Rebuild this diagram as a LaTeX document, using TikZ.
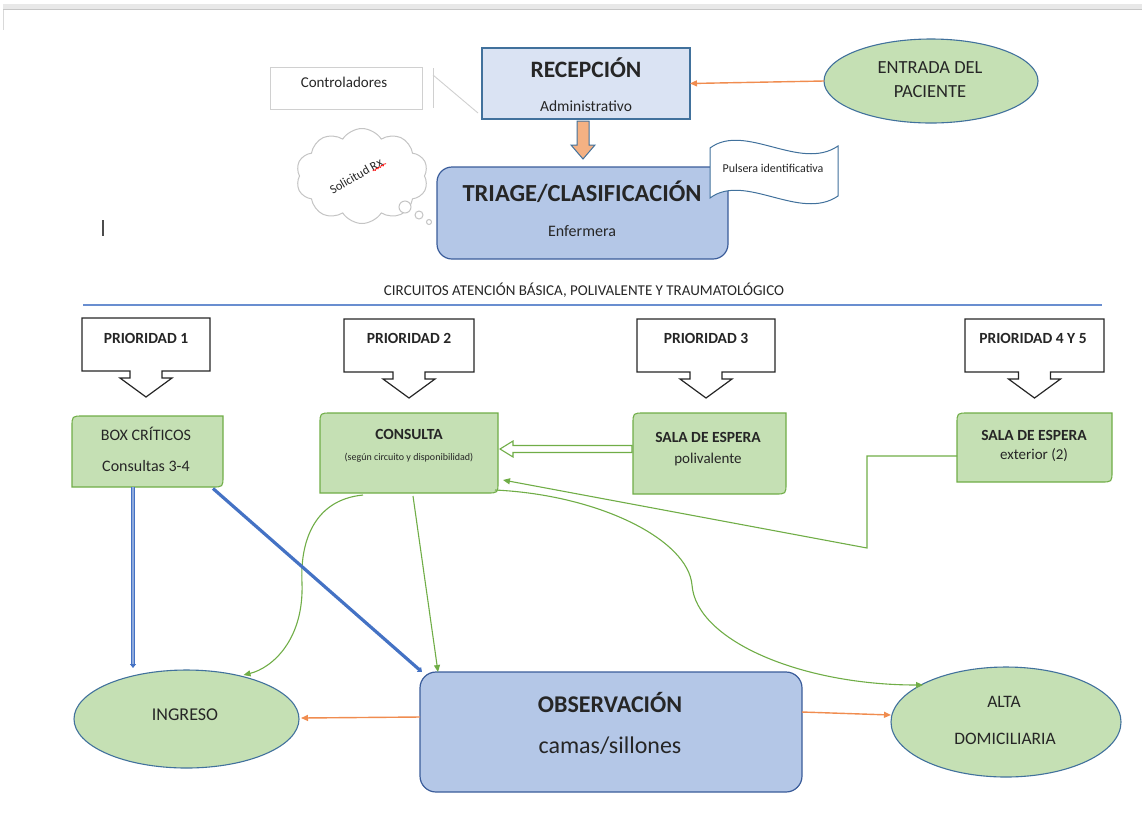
\documentclass[tikz,border=0pt]{standalone}
\usepackage{fontspec}
\setmainfont{Carlito}
\usetikzlibrary{shapes.geometric,shapes.symbols,arrows.meta,calc,decorations.pathmorphing}
\definecolor{recfill}{HTML}{DAE3F3}
\definecolor{bluefill}{HTML}{B4C7E7}
\definecolor{blueedge}{HTML}{41719C}
\definecolor{darkedge}{HTML}{3A5C9A}
\definecolor{greenfill}{HTML}{C5E0B4}
\definecolor{greenedge}{HTML}{70AD47}
\definecolor{orangeline}{HTML}{F08C4F}
\definecolor{orangefill}{HTML}{F4B183}
\definecolor{blueline}{HTML}{4472C4}
\definecolor{bluelight}{HTML}{8FAADC}
\definecolor{txt}{HTML}{262626}
\definecolor{ltgray}{HTML}{D0D0D0}
\definecolor{cloudgray}{HTML}{C4C4C4}
\pgfdeclarelayer{background}
\pgfsetlayers{background,main}
\newcommand\gboxshape[1]{%
  \path[gshape] (#1.south west) -- ([yshift=-11pt]#1.north west)
    .. controls (#1.north west) .. ([xshift=11pt]#1.north west)
    -- (#1.north east) -- ([yshift=11pt]#1.south east)
    .. controls (#1.south east) .. ([xshift=-11pt]#1.south east) -- cycle;}
\newcommand\prioshape[1]{%
  \path[prioshapestyle] (#1.north west) -- (#1.north east) -- (#1.south east)
    -- ($(#1.south)+(16,0)$) -- ($(#1.south)+(16,7)$) -- ($(#1.south)+(26,7)$)
    -- ($(#1.south)+(0,26)$) -- ($(#1.south)+(-26,7)$) -- ($(#1.south)+(-16,7)$)
    -- ($(#1.south)+(-16,0)$) -- (#1.south west) -- cycle;}
\begin{document}
\begin{tikzpicture}[x=1pt,y=-1pt,
  every node/.style={text=txt, inner sep=0pt, outer sep=0pt},
  recbox/.style={draw=blueedge, fill=recfill, line width=1.1pt},
  bluebox/.style={draw=darkedge, fill=bluefill, line width=1.2pt, rounded corners=15pt},
  ell/.style={ellipse, draw=blueedge, fill=greenfill, line width=1.1pt},
  gshape/.style={draw=greenedge, fill=greenfill, line width=1.1pt},
  prioshapestyle/.style={draw=black!85, fill=white, line width=1.2pt},
  invis/.style={draw=none},
  glink/.style={draw=greenedge, line width=1.1pt, -{Triangle[length=7pt,width=6pt]}},
  olink/.style={draw=orangeline, line width=1.4pt, -{Triangle[length=7pt,width=6pt]}},
  blink/.style={draw=blueline, line width=3.2pt, -{Triangle[length=4pt,width=6pt]}},
  dlink/.style={draw=blueline, double=bluelight, double distance=1.1pt, line width=1.1pt, -{Triangle[length=4pt,width=6pt]}},
  t/.style={anchor=base},
]
\useasboundingbox (0,0) rectangle (1142,823);
% page edge
\fill[gray!18] (3,4) rectangle (1142,9);
\draw[gray!45, line width=0.8pt] (3,9.5) -- (1142,9.5);
\draw[gray!30, line width=0.8pt] (3,9.5) -- (3,30);
% text cursor
\draw[black!70, line width=1.2pt] (103,220) -- (103,236);

% ---------- top part ----------
\node[draw=ltgray, line width=0.9pt, minimum width=152pt, minimum height=42pt] (ctl) at (346,88) {};
\draw[ltgray, line width=0.9pt] (433,68) -- (433,108);
\draw[ltgray, line width=0.9pt] (433,75) -- ($(ctl.east)+(56,25)$);

\node[recbox, minimum width=208pt, minimum height=71pt] (rec) at (586,83.5) {};
\node[ell, minimum width=214pt, minimum height=84pt] (ent) at (931,81) {};
\node[bluebox, minimum width=291pt, minimum height=92pt] (tri) at (582.5,213) {};

% cloud
\node[cloud, cloud puffs=10, cloud puff arc=115, aspect=1.35, draw=cloudgray, fill=white, line width=1pt,
      minimum width=132pt, minimum height=95pt] (cld) at (362,176) {};
\draw[cloudgray, fill=white, line width=1pt] (405,207) circle (6pt);
\draw[cloudgray, fill=white, line width=1pt] (419,215) circle (4pt);
\draw[cloudgray, fill=white, line width=1pt] (429,222) circle (2.5pt);

% block arrow
\coordinate (ba) at ($(tri.north)+(0.5,-8)$);
\path[draw=blueedge, fill=orangefill, line width=1pt]
  ($(ba)+(-6,-38)$) -- ($(ba)+(6,-38)$) -- ($(ba)+(6,-14)$) -- ($(ba)+(12,-14)$)
  -- (ba) -- ($(ba)+(-12,-14)$) -- ($(ba)+(-6,-14)$) -- cycle;

% pulsera flag
\path[draw=blueedge, fill=white, line width=1pt]
  (710,148) .. controls (745,122) and (800,172) .. (838,146)
  -- (838,196) .. controls (800,222) and (745,172) .. (710,198) -- cycle;

\draw[olink] (ent.west) -- (rec.east);

% texts top
\node[t, font=\fontsize{15}{17}\selectfont] (ctlt) at (344,87) {Controladores};
\node[t, font=\fontsize{23.5}{25}\selectfont\bfseries] (rect1) at (586,77.5) {RECEPCIÓN};
\node[t, font=\fontsize{15.5}{18}\selectfont] (rect2) at (586,111) {Administrativo};
\node[t, font=\fontsize{18.5}{20}\selectfont] (entt1) at (930,73) {ENTRADA DEL};
\node[t, font=\fontsize{18.5}{20}\selectfont] (entt2) at (930,97) {PACIENTE};
\node[t, font=\fontsize{24.5}{26}\selectfont\bfseries] (trit1) at (582,201.5) {TRIAGE/CLASIFICACIÓN};
\node[t, font=\fontsize{16}{18}\selectfont] (trit2) at (582,236) {Enfermera};
\node[t, font=\fontsize{12}{14}\selectfont] (pul) at (773,172) {Pulsera identificativa};
\node[rotate=30, font=\fontsize{12.5}{14}\selectfont] (sol) at (356,176) {Solicitud Rx};
\draw[red, line width=0.7pt, decorate, decoration={snake, amplitude=0.7pt, segment length=3pt}]
  (373,171) -- (386,163.5);

% ---------- circuits header ----------
\node[t, font=\fontsize{15}{17}\selectfont] (circ) at (584,295) {CIRCUITOS ATENCIÓN BÁSICA, POLIVALENTE Y TRAUMATOLÓGICO};
\draw[blueline!80, line width=1.3pt] (83,305) -- (1102,305);

% priority callouts
\node[invis, minimum width=128pt, minimum height=53pt] (p1) at (146,344.5) {};
\node[invis, minimum width=130pt, minimum height=53pt] (p2) at (409,345.5) {};
\node[invis, minimum width=138pt, minimum height=53pt] (p3) at (706,345.5) {};
\node[invis, minimum width=139pt, minimum height=53pt] (p4) at (1034.5,345.5) {};
\prioshape{p1}\prioshape{p2}\prioshape{p3}\prioshape{p4}
\node[t, font=\fontsize{15.5}{17}\selectfont\bfseries] (p1t) at (146,343) {PRIORIDAD 1};
\node[t, font=\fontsize{15.5}{17}\selectfont\bfseries] (p2t) at (409,343) {PRIORIDAD 2};
\node[t, font=\fontsize{15.5}{17}\selectfont\bfseries] (p3t) at (706,343) {PRIORIDAD 3};
\node[t, font=\fontsize{15.5}{17}\selectfont\bfseries] (p4t) at (1033,343) {PRIORIDAD 4 Y 5};

% green boxes
\node[invis, minimum width=151pt, minimum height=71pt] (box1) at (147.5,451.5) {};
\node[invis, minimum width=178pt, minimum height=80pt] (cons) at (409,453) {};
\node[invis, minimum width=153pt, minimum height=81pt] (poliv) at (709.5,453.5) {};
\node[invis, minimum width=155pt, minimum height=69pt] (ext) at (1034.5,447.5) {};
\gboxshape{box1}\gboxshape{cons}\gboxshape{poliv}\gboxshape{ext}
\node[t, font=\fontsize{16}{18}\selectfont] (box1t1) at (146,440) {BOX CRÍTICOS};
\node[t, font=\fontsize{16}{18}\selectfont] (box1t2) at (146,471.5) {Consultas 3-4};
\node[t, font=\fontsize{15.5}{18}\selectfont\bfseries] (const1) at (409,439) {CONSULTA};
\node[t, font=\fontsize{10}{12}\selectfont] (const2) at (409,460) {(según circuito y disponibilidad)};
\node[t, font=\fontsize{15.5}{18}\selectfont\bfseries] (polivt1) at (708,442.5) {SALA DE ESPERA};
\node[t, font=\fontsize{15}{18}\selectfont] (polivt2) at (708,463.5) {polivalente};
\node[t, font=\fontsize{15.5}{18}\selectfont\bfseries] (extt1) at (1034,440) {SALA DE ESPERA};
\node[t, font=\fontsize{15}{18}\selectfont] (extt2) at (1034,459.5) {exterior (2)};

% hollow arrow poliv -> consulta
\coordinate (ha) at ($(poliv.west)+(-1,-4.5)$);
\coordinate (hb) at ($(cons.east)+(2,-4)$);
\path[draw=greenedge, fill=white, line width=1.1pt]
  ($(ha)+(0,-3.5)$) -- ($(hb)+(13,-3.5)$) -- ($(hb)+(13,-8)$) -- (hb)
  -- ($(hb)+(13,8)$) -- ($(hb)+(13,3.5)$) -- ($(ha)+(0,3.5)$) -- cycle;

% ---------- bottom part ----------
\node[ell, minimum width=225pt, minimum height=98pt] (ing) at (186.5,719) {};
\node[bluebox, rounded corners=16pt, minimum width=382pt, minimum height=120pt] (obs) at (611,732) {};
\node[ell, minimum width=230pt, minimum height=110pt] (alta) at (1006,722) {};
\node[t, font=\fontsize{18}{20}\selectfont] (ingt) at (185,720) {INGRESO};
\node[t, font=\fontsize{24}{26}\selectfont\bfseries] (obst1) at (610,712) {OBSERVACIÓN};
\node[t, font=\fontsize{24}{26}\selectfont] (obst2) at (610,753) {camas/sillones};
\node[t, font=\fontsize{17.5}{20}\selectfont] (altat1) at (1004,707) {ALTA};
\node[t, font=\fontsize{17.5}{20}\selectfont] (altat2) at (1005,744) {DOMICILIARIA};

% green connectors
\draw[glink] ($(cons.south)+(-46,2)$) .. controls (312,500) and (300,545) .. (302,583)
  .. controls (304,640) and (272,668) .. ($(ing.center)+(57,-44)$);
\draw[glink] ($(cons.south)+(4,3)$) -- ($(obs.north west)+(18,0)$);
\draw[glink] ($(cons.south east)+(-3,-3)$) .. controls (600,495) and (688,540) .. (692,585)
  .. controls (696,640) and (800,685) .. ($(alta.center)+(-83,-37)$);
\draw[glink] ($(ext.west)+(0,8.5)$) -- ++(-90,0) -- ++(0,92) -- ($(cons.east)+(5,27)$);

% blue connectors
\draw[dlink] ($(box1.south)+(-14.5,0)$) -- ($(ing.north)+(-53.5,-2)$);
\draw[blink] ($(box1.south east)+(-10,1.5)$) -- ($(obs.north west)+(2,0)$);

% orange connectors
\draw[olink] ($(obs.west)+(0,-15)$) -- ($(ing.east)+(2,-1)$);
\draw[olink] ($(obs.east)+(0,-20)$) -- ($(alta.west)+(0,-7)$);
\end{tikzpicture}
\end{document}
